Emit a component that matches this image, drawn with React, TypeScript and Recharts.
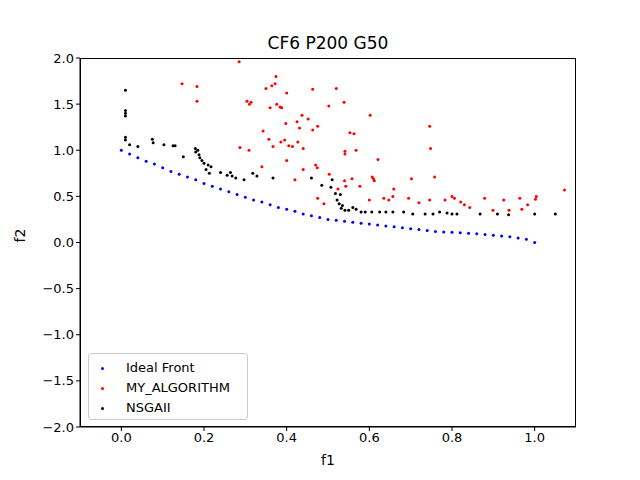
import React from 'react'
import { ScatterChart, Scatter, XAxis, YAxis, Label } from 'recharts'

const idealF1 = [0, 0.02, 0.04, 0.06, 0.08, 0.1, 0.12, 0.14, 0.16, 0.18, 0.2, 0.22, 0.24, 0.26, 0.28, 0.3, 0.32, 0.34, 0.36, 0.38, 0.4, 0.42, 0.44, 0.46, 0.48, 0.5,
  0.52, 0.54, 0.56, 0.58, 0.6, 0.62, 0.64, 0.66, 0.68, 0.7, 0.72, 0.74,
  0.76, 0.78, 0.8, 0.82, 0.84, 0.86, 0.88, 0.9, 0.92, 0.94, 0.96, 0.98, 1.0]
const idealF2 = [1.0, 0.96, 0.92, 0.88, 0.85, 0.81, 0.77, 0.74, 0.71, 0.68, 0.64, 0.61, 0.58, 0.55, 0.52, 0.49, 0.46, 0.44, 0.41, 0.38, 0.36, 0.34, 0.31, 0.29, 0.27, 0.25,
  0.24, 0.23, 0.22, 0.21, 0.2, 0.19, 0.18, 0.17, 0.16, 0.15, 0.14, 0.13,
  0.12, 0.115, 0.11, 0.105, 0.1, 0.095, 0.087, 0.079, 0.071, 0.061, 0.05, 0.035, 0.0]

const myAlgo: [number, number][] = [
  [0.147, 1.72], [0.183, 1.69], [0.183, 1.53], [0.285, 1.96], [0.374, 1.8], [0.372, 1.72], [0.364, 1.7], [0.35, 1.67],
  [0.463, 1.66], [0.52, 1.67], [0.304, 1.53], [0.31, 1.5], [0.314, 1.52], [0.36, 1.46], [0.376, 1.5], [0.384, 1.47],
  [0.388, 1.46], [0.4, 1.62], [0.539, 1.52], [0.425, 1.31], [0.437, 1.38], [0.452, 1.34], [0.431, 1.24], [0.463, 1.22],
  [0.475, 1.26], [0.502, 1.48], [0.602, 1.38], [0.343, 1.21], [0.398, 1.29], [0.357, 1.12], [0.367, 1.04], [0.386, 1.09],
  [0.395, 1.11], [0.405, 1.05], [0.414, 1.04], [0.427, 1.09], [0.309, 1.0], [0.287, 1.03], [0.4, 0.89], [0.44, 1.02],
  [0.553, 1.19], [0.563, 1.18], [0.541, 0.99], [0.541, 0.96], [0.568, 1.0], [0.621, 0.9], [0.746, 1.26], [0.748, 1.02],
  [0.758, 0.71], [0.702, 0.69], [0.34, 0.82], [0.44, 0.79], [0.47, 0.84], [0.474, 0.81], [0.503, 0.74], [0.54, 0.67],
  [0.558, 0.69], [0.607, 0.71], [0.612, 0.67], [0.61, 0.69], [0.659, 0.58], [0.657, 0.5], [0.524, 0.58], [0.543, 0.61],
  [0.577, 0.61], [0.6, 0.46], [0.635, 0.48], [0.647, 0.46], [0.695, 0.48], [0.72, 0.43], [0.746, 0.46], [0.783, 0.46],
  [0.8, 0.5], [0.806, 0.48], [0.821, 0.44], [0.83, 0.41], [0.843, 0.38], [0.879, 0.48], [0.899, 0.35], [0.925, 0.46],
  [0.938, 0.35], [0.964, 0.48], [0.969, 0.36], [0.983, 0.41], [1.004, 0.5], [1.002, 0.47], [1.072, 0.57], [0.42, 0.68],
  [0.475, 0.48], [0.49, 0.42],
]

const nsga: [number, number][] = [
  [0.01, 1.65], [0.01, 1.43], [0.01, 1.4], [0.01, 1.37], [0.01, 1.14], [0.01, 1.11], [0.02, 1.06], [0.04, 1.04],
  [0.075, 1.12], [0.077, 1.08], [0.103, 1.06], [0.125, 1.05], [0.13, 1.05], [0.15, 0.93], [0.179, 1.02], [0.18, 0.98],
  [0.185, 1.0], [0.188, 0.95], [0.19, 0.92], [0.195, 0.89], [0.2, 0.86], [0.205, 0.79], [0.21, 0.84], [0.213, 0.75],
  [0.217, 0.82], [0.24, 0.76], [0.256, 0.73], [0.264, 0.76], [0.268, 0.72], [0.277, 0.7], [0.297, 0.68], [0.318, 0.75],
  [0.328, 0.72], [0.367, 0.7], [0.46, 0.7], [0.485, 0.62], [0.507, 0.6], [0.518, 0.53], [0.522, 0.46], [0.527, 0.42],
  [0.532, 0.37], [0.535, 0.4], [0.541, 0.35], [0.55, 0.35], [0.56, 0.38], [0.568, 0.36], [0.58, 0.33], [0.59, 0.33],
  [0.606, 0.33], [0.625, 0.33], [0.64, 0.33], [0.657, 0.33], [0.683, 0.33], [0.705, 0.31], [0.735, 0.31], [0.754, 0.31],
  [0.77, 0.33], [0.788, 0.32], [0.8, 0.31], [0.812, 0.31], [0.868, 0.31], [0.91, 0.31], [0.937, 0.3], [1.0, 0.31],
  [1.05, 0.31], [0.51, 0.68], [0.53, 0.52],
]

const xTicks = [0, 0.2, 0.4, 0.6, 0.8, 1.0]
const yTicks = [-2, -1.5, -1, -0.5, 0, 0.5, 1, 1.5, 2]

const ideal = idealF1.map((x, i) => ({ x, y: idealF2[i] }))
const toPts = (arr: [number, number][]) => arr.map(([x, y]) => ({ x, y }))

const dot = (color: string) => (p: any) => <circle cx={p.cx} cy={p.cy} r={1.5} fill={color} />
const fmt = (v: number) => v.toFixed(1).replace('-', '\u2212')
const font = 'DejaVu Sans'

export default function App() {
  return (
    <div style={{ position: 'absolute', left: 0, top: 0, width: 640, height: 480, background: '#fff', fontFamily: font }}>
      <ScatterChart width={640} height={480} margin={{ top: 58, right: 64, bottom: 23, left: 20 }}>
        <XAxis type="number" dataKey="x" domain={[-0.1, 1.1]} ticks={xTicks} tickFormatter={fmt}
          stroke="#000" tick={{ fill: '#000', fontSize: 13 }} tickSize={4} height={30} allowDataOverflow>
          <Label value="f1" position="insideBottom" offset={-8} style={{ fill: '#000', fontSize: 14 }} />
        </XAxis>
        <YAxis type="number" dataKey="y" domain={[-2, 2]} ticks={yTicks} tickFormatter={fmt}
          stroke="#000" tick={{ fill: '#000', fontSize: 13 }} tickSize={4} width={60} allowDataOverflow>
          <Label value="f2" angle={-90} position="insideLeft" offset={0} style={{ fill: '#000', fontSize: 14 }} />
        </YAxis>
        <Scatter data={ideal} shape={dot('#0000ff')} isAnimationActive={false} />
        <Scatter data={toPts(myAlgo)} shape={dot('#ff0000')} isAnimationActive={false} />
        <Scatter data={toPts(nsga)} shape={dot('#000000')} isAnimationActive={false} />
      </ScatterChart>
      <div style={{ position: 'absolute', left: 80, top: 58, width: 496, height: 369, border: '1px solid #000', boxSizing: 'border-box', pointerEvents: 'none' }} />
      <div style={{ position: 'absolute', left: 0, top: 33, width: 656, textAlign: 'center', fontSize: 17 }}>CF6 P200 G50</div>
      <div style={{ position: 'absolute', left: 88, top: 353, width: 160, height: 67, border: '1px solid #ccc', borderRadius: 3, boxSizing: 'border-box', background: 'rgba(255,255,255,0.8)', fontSize: 13, padding: '4px 0 0 8px', lineHeight: '20px' }}>
        {[['#0000ff', 'Ideal Front'], ['#ff0000', 'MY_ALGORITHM'], ['#000000', 'NSGAII']].map(([c, t]) => (
          <div key={t} style={{ display: 'flex', alignItems: 'center' }}>
            <span style={{ width: 3, height: 3, borderRadius: 2, background: c, margin: '0 22px 0 4px' }} />
            {t}
          </div>
        ))}
      </div>
    </div>
  )
}
